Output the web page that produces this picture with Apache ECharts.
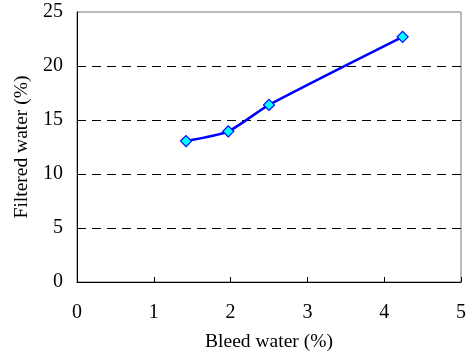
<!DOCTYPE html>
<html>
<head>
<meta charset="utf-8">
<script src="https://cdn.jsdelivr.net/npm/echarts@6/dist/echarts.min.js"></script>
<style>
  html, body { margin: 0; padding: 0; background: #fff; }
  #chart { width: 471px; height: 352px; }
</style>
</head>
<body>
<div id="chart"></div>
<script>
// data
var bleedWater = [1.42, 1.97, 2.50, 4.24];
var filteredWater = [13.05, 13.95, 16.4, 22.7];
var xTicks = [0, 1, 2, 3, 4, 5];
var yTicks = [0, 5, 10, 15, 20, 25];

var points = bleedWater.map(function (x, i) { return [x, filteredWater[i]]; });

var chart = echarts.init(document.getElementById('chart'));
var font = 'Liberation Serif';

var option = {
  animation: false,
  grid: {
    left: 77,
    right: 10,
    top: 12,
    bottom: 70,
    outerBoundsMode: 'none',
    containLabel: false,
    show: true,
    borderColor: '#777',
    borderWidth: 1
  },
  xAxis: {
    type: 'value',
    min: xTicks[0],
    max: xTicks[xTicks.length - 1],
    interval: 1,
    name: 'Bleed water (%)',
    nameLocation: 'middle',
    nameGap: 50,
    nameTextStyle: { fontFamily: font, fontSize: 19.5, color: '#000' },
    axisLine: { lineStyle: { color: '#000', width: 1 } },
    axisTick: { inside: true, length: 5, lineStyle: { color: '#000' } },
    axisLabel: { fontFamily: font, fontSize: 20, color: '#000', margin: 21 },
    splitLine: { show: false }
  },
  yAxis: {
    type: 'value',
    min: yTicks[0],
    max: yTicks[yTicks.length - 1],
    interval: 5,
    name: 'Filtered water (%)',
    nameLocation: 'middle',
    nameGap: 43,
    nameTextStyle: { fontFamily: font, fontSize: 19.5, color: '#000' },
    axisLine: { show: true, lineStyle: { color: '#000', width: 1 } },
    axisTick: { show: false },
    axisLabel: { fontFamily: font, fontSize: 20, color: '#000', margin: 14 },
    splitLine: {
      show: true,
      showMinLine: false,
      showMaxLine: false,
      lineStyle: { color: '#000', type: [9, 6], width: 1 }
    }
  },
  series: [{
    type: 'line',
    data: points,
    smooth: 0.2,
    symbol: 'diamond',
    symbolSize: 11,
    lineStyle: { color: '#0000ff', width: 2.5 },
    itemStyle: { color: '#00ffff', borderColor: '#0000ff', borderWidth: 1.2 }
  }]
};

chart.setOption(option);
</script>
</body>
</html>
